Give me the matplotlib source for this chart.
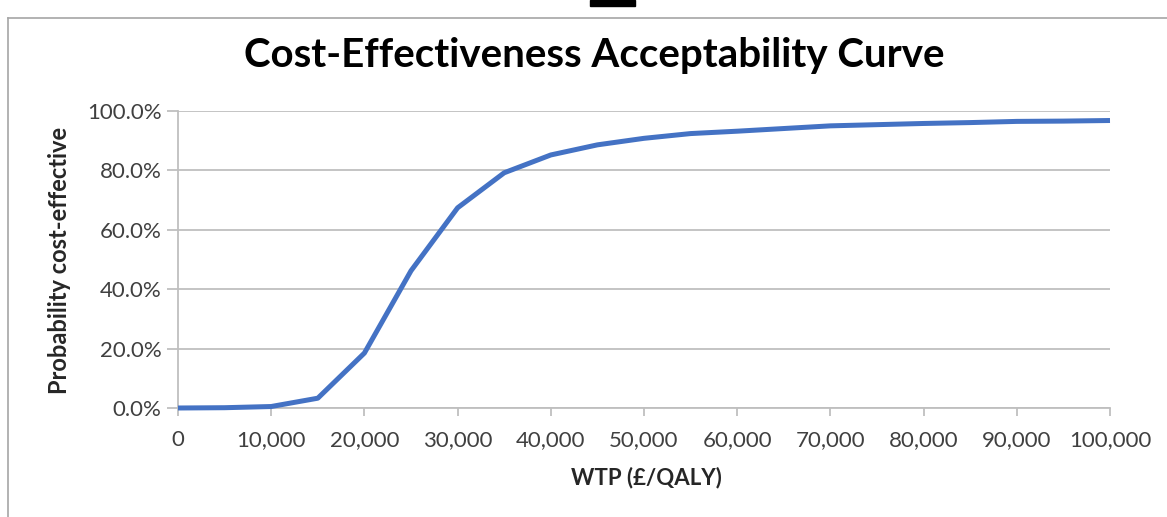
#%% Bibliotheken

import numpy as np
import matplotlib.pyplot as plt
from matplotlib.ticker import FuncFormatter
from matplotlib.patches import Rectangle
from matplotlib.lines import Line2D

#%% Daten

wtp = [0, 5000, 10000, 15000, 20000, 25000, 30000, 35000, 40000, 45000, 50000,
       55000, 60000, 65000, 70000, 75000, 80000, 85000, 90000, 95000, 100000]
prob = [0.000, 0.001, 0.005, 0.033, 0.185, 0.462, 0.674, 0.792, 0.852, 0.886, 0.908,
        0.924, 0.932, 0.941, 0.950, 0.954, 0.958, 0.961, 0.965, 0.966, 0.968]

x_ticks = np.arange(0, 100001, 10000)
y_ticks = [0.0, 0.2, 0.4, 0.6, 0.8, 1.0]

#%% Grafik

plt.rcParams['font.family'] = ['Lato', 'DejaVu Sans']

W, H = 1167, 517
fig = plt.figure(figsize=(W / 100, H / 100), dpi=100)

# Rahmen des Diagrammbereichs (links und oben)
fig.add_artist(Line2D([8 / W, 8 / W], [0, 1 - 18 / H], color='#a6a6a6', lw=1.2))
fig.add_artist(Line2D([8 / W, 1], [1 - 18 / H, 1 - 18 / H], color='#a6a6a6', lw=1.2))
fig.add_artist(Rectangle((590 / W, 1 - 6 / H), 45 / W, 6 / H, color='black'))

ax = fig.add_axes([178 / W, 1 - 408 / H, (1110 - 178) / W, (408 - 111) / H])

ax.plot(wtp, prob, color='#4472C4', lw=3.6, solid_capstyle='butt', zorder=3, clip_on=False)

ax.set_xlim(0, 100000)
ax.set_ylim(0, 1)
ax.set_xticks(x_ticks)
ax.set_yticks(y_ticks)
ax.xaxis.set_major_formatter(FuncFormatter(lambda v, p: f'{int(v):,}'))
ax.yaxis.set_major_formatter(FuncFormatter(lambda v, p: f'{v * 100:.1f}%'))

ax.grid(axis='y', color='#bfbfbf', lw=1.3)
ax.set_axisbelow(True)
for side in ['top', 'right']:
    ax.spines[side].set_visible(False)
for side in ['left', 'bottom']:
    ax.spines[side].set_color('#bfbfbf')
    ax.spines[side].set_linewidth(1.3)

ax.tick_params(axis='x', length=6, width=1.3, color='#bfbfbf', labelsize=16,
               labelcolor='#404040', pad=10)
ax.tick_params(axis='y', length=8, width=1.3, color='#bfbfbf', labelsize=16,
               labelcolor='#404040', pad=4)

# Achsenbeschriftungen
fig.text(646 / W, 1 - 478 / H, 'WTP (£/QALY)', ha='center', va='center',
         fontsize=16, fontweight='bold', color='#262626')
fig.text(60 / W, 1 - 260 / H, 'Probability cost-effective', ha='center', va='center',
         rotation=90, fontsize=17, fontweight='bold', color='#262626')

fig.text(594 / W, 1 - 56 / H, 'Cost-Effectiveness Acceptability Curve', ha='center',
         va='center', fontsize=29, fontweight='bold', color='black')

plt.savefig('out.png', dpi=100)
